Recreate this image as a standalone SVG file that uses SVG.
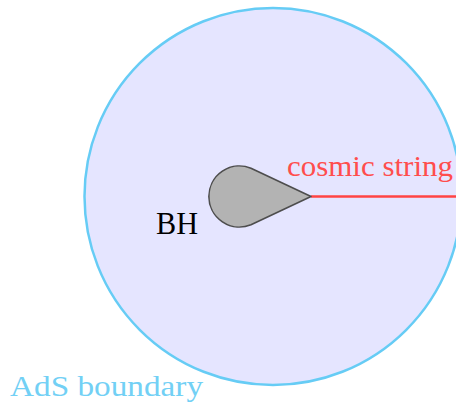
<svg xmlns="http://www.w3.org/2000/svg" width="456" height="403" viewBox="0 0 456 403">
<style>
text{font-family:"Liberation Serif","DejaVu Serif",serif;}
.ads{fill:#e5e5ff;stroke:#66ccf5;stroke-width:2.5;}
.bh{fill:#b3b3b3;stroke:#4d4d4d;stroke-width:1.6;}
.str{stroke:#ff4444;stroke-width:2.5;fill:none;}
</style>
<g id="ads">
<circle class="ads" cx="273" cy="196.5" r="188.5"/>
<text x="10" y="396" font-size="30" fill="#72d0f5" textLength="193" lengthAdjust="spacingAndGlyphs">AdS boundary</text>
</g>
<g id="connectors">
<line class="str" x1="311" y1="196.5" x2="460" y2="196.5"/>
</g>
<g id="string-label">
<text x="287" y="176" font-size="29" fill="#ff4d4d" textLength="166" lengthAdjust="spacingAndGlyphs">cosmic string</text>
</g>
<g id="bh">
<path class="bh" d="M311 196.5 L251 224.7 A30.5 30.5 0 1 1 251 168.3 Z" stroke-linejoin="round"/>
<text x="156" y="234" font-size="31" fill="#000" textLength="42" lengthAdjust="spacingAndGlyphs">BH</text>
</g>
</svg>
